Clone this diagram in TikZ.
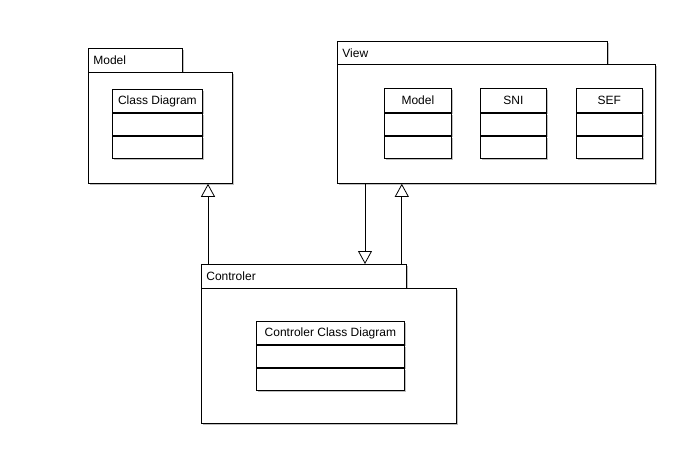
\documentclass[tikz,border=0pt]{standalone}
\usepackage{fontspec}
\setmainfont{Liberation Sans}
\usetikzlibrary{arrows.meta,shadows}

\tikzset{
	umlshadow/.style={drop shadow={shadow xshift=1.5pt,shadow yshift=-1.5pt,fill=black!25,opacity=1}},
	pkgtab/.style={draw,fill=white,anchor=north west,inner xsep=5pt,inner ysep=0pt,align=left,umlshadow},
	pkgbody/.style={draw,fill=white,anchor=north west,inner sep=0pt,umlshadow},
	clshead/.style={draw,fill=white,anchor=north west,inner sep=0pt,minimum height=23pt,umlshadow},
	clspart/.style={draw,fill=white,anchor=north,inner sep=0pt,minimum height=22pt,umlshadow},
	realize/.style={-{Triangle[open,width=14pt,length=13pt]}}
}

\begin{document}
\begin{tikzpicture}[x=1pt,y=-1pt,line width=0.8pt,
	font=\fontsize{12}{14}\selectfont]
	\useasboundingbox (0,0) rectangle (691,448);
	
	% Model package
	\node[pkgtab,text width=84pt,minimum height=24pt] (modeltab) at (88,48) {Model};
	\node[pkgbody,minimum width=144pt,minimum height=111pt] (modelbody) at (88,72) {};
	\node[clshead,minimum width=90pt] (modelcls) at (112,89) {Class Diagram};
	\node[clspart,minimum width=90pt] (modelclsa) at (modelcls.south) {};
	\node[clspart,minimum width=90pt] (modelclsb) at (modelclsa.south) {};
	
	% View package
	\node[pkgtab,text width=260pt,minimum height=23pt] (viewtab) at (337,41) {View};
	\node[pkgbody,minimum width=318pt,minimum height=119pt] (viewbody) at (337,64) {};
	\node[clshead,minimum width=67pt,minimum height=24pt] (viewmodel) at (384,88) {Model};
	\node[clspart,minimum width=67pt] (viewmodela) at (viewmodel.south) {};
	\node[clspart,minimum width=67pt] (viewmodelb) at (viewmodela.south) {};
	\node[clshead,minimum width=66pt,minimum height=24pt] (sni) at (480,88) {SNI};
	\node[clspart,minimum width=66pt] (snia) at (sni.south) {};
	\node[clspart,minimum width=66pt] (snib) at (snia.south) {};
	\node[clshead,minimum width=66pt,minimum height=24pt] (sef) at (576,88) {SEF};
	\node[clspart,minimum width=66pt] (sefa) at (sef.south) {};
	\node[clspart,minimum width=66pt] (sefb) at (sefa.south) {};
	
	% Controler package
	\node[pkgtab,text width=195pt,minimum height=24pt] (ctrltab) at (201,264) {Controler};
	\node[pkgbody,minimum width=255pt,minimum height=135pt] (ctrlbody) at (201,288) {};
	\node[clshead,minimum width=148pt] (ctrlcls) at (256,321) {Controler Class Diagram};
	\node[clspart,minimum width=148pt] (ctrlclsa) at (ctrlcls.south) {};
	\node[clspart,minimum width=148pt] (ctrlclsb) at (ctrlclsa.south) {};
	
	% dependencies
	\draw[realize] ([xshift=7pt]ctrltab.north west) -- ([xshift=7pt]ctrltab.north west |- modelbody.south);
	\draw[realize] ([xshift=28pt]viewbody.south west) -- ([xshift=28pt]viewbody.south west |- ctrltab.north);
	\draw[realize] ([xshift=-5pt]ctrltab.north east) -- ([xshift=-5pt]ctrltab.north east |- viewbody.south);
	
\end{tikzpicture}
\end{document}
